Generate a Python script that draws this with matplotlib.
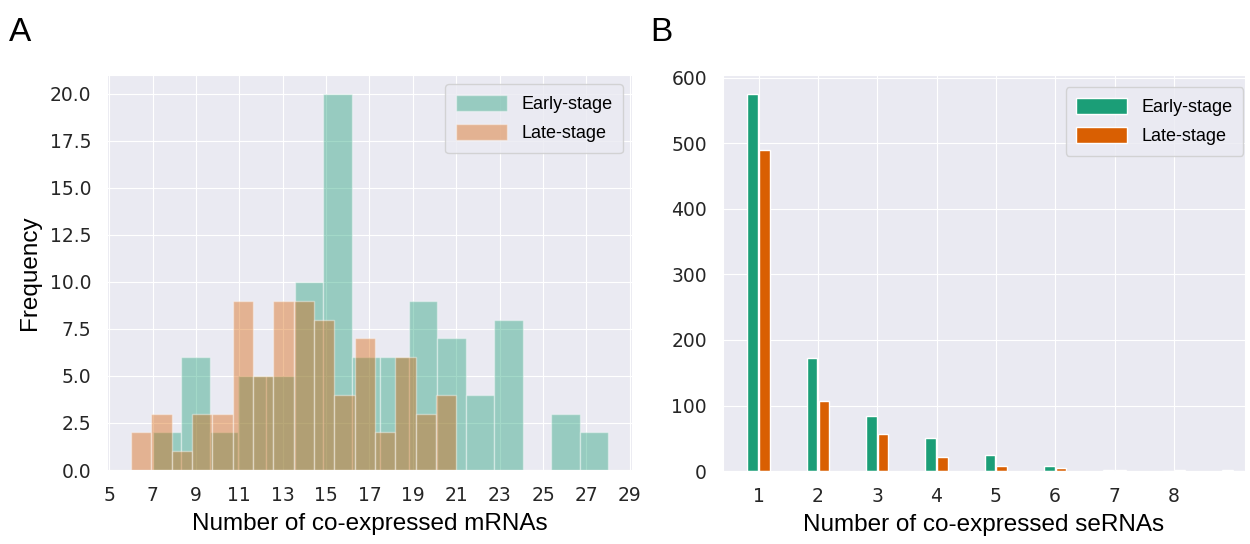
import numpy as np
import matplotlib
matplotlib.use("Agg")
import matplotlib.pyplot as plt
import seaborn as sns

# Panel A: histogram counts per bin (16 bins over each group's data range)
early_range = (7, 28)
late_range = (6, 21)
n_bins = 16
early_mrna = [2, 6, 2, 5, 5, 10, 20, 6, 6, 9, 7, 4, 8, 0, 3, 2]
late_mrna = [2, 3, 1, 3, 3, 9, 5, 9, 9, 8, 4, 7, 2, 6, 3, 4]

# Panel B: counts per number of co-expressed seRNAs
n_serna = [1, 2, 3, 4, 5, 6, 7, 8, 9]
early_serna = [575, 172, 84, 50, 24, 8, 2, 0.5, 1]
late_serna = [490, 107, 56, 22, 8, 4, 1, 1, 0]

green = "#1b9e77"
orange = "#d95f02"

sns.set_style("darkgrid", {"grid.linewidth": 1.2})
plt.rcParams["font.family"] = ["DejaVu Sans"]
label_font = "Liberation Sans"

fig = plt.figure(figsize=(12.5, 5.44), dpi=100)
axA = fig.add_axes([0.0856, 0.136, 0.42, 0.726])
axB = fig.add_axes([0.5784, 0.134, 0.4176, 0.728])

# ---- A
edges_early = np.linspace(early_range[0], early_range[1], n_bins + 1)
edges_late = np.linspace(late_range[0], late_range[1], n_bins + 1)
axA.hist(edges_early[:-1], bins=edges_early, weights=early_mrna, color=green,
         alpha=0.4, edgecolor="white", linewidth=1, label="Early-stage")
axA.hist(edges_late[:-1], bins=edges_late, weights=late_mrna, color=orange,
         alpha=0.4, edgecolor="white", linewidth=1, label="Late-stage")
axA.set_xticks(range(5, 30, 2))
axA.set_xlim(4.9, 29.1)
axA.set_ylim(0, 21)
axA.set_yticks(np.arange(0, 20.1, 2.5))
axA.tick_params(labelsize=13.5, colors="#262626", pad=8)
axA.set_xlabel("Number of co-expressed mRNAs", fontsize=17.5, family=label_font,
               labelpad=6, color="black")
axA.set_ylabel("Frequency", fontsize=17.5, family=label_font, labelpad=6,
               color="black")
legA = axA.legend(loc="upper right", prop={"family": label_font, "size": 13},
                  borderpad=0.6, handlelength=2.8, handleheight=1.0,
                  labelspacing=0.6)
for t in legA.get_texts():
    t.set_color("black")

# ---- B
x = np.array(n_serna)
axB.bar(x - 0.1, early_serna, width=0.18, color=green, edgecolor="white",
        linewidth=1, label="Early-stage")
axB.bar(x + 0.1, late_serna, width=0.18, color=orange, edgecolor="white",
        linewidth=1, label="Late-stage")
axB.set_xticks(range(1, 9))
axB.set_xlim(0.4, 9.2)
axB.set_ylim(0, 604)
axB.set_yticks(range(0, 601, 100))
axB.tick_params(labelsize=13.5, colors="#262626", pad=8)
axB.set_xlabel("Number of co-expressed seRNAs", fontsize=17.5, family=label_font,
               labelpad=6, color="black")
legB = axB.legend(loc="upper right", bbox_to_anchor=(0.997, 0.97),
                  prop={"family": label_font, "size": 13},
                  borderpad=0.6, handlelength=2.8, handleheight=1.0,
                  labelspacing=0.6, borderaxespad=0)
for t in legB.get_texts():
    t.set_color("black")

fig.text(0.007, 0.925, "A", fontsize=24, family=label_font, color="black")
fig.text(0.520, 0.925, "B", fontsize=24, family=label_font, color="black")

fig.savefig("out.png", dpi=100)
